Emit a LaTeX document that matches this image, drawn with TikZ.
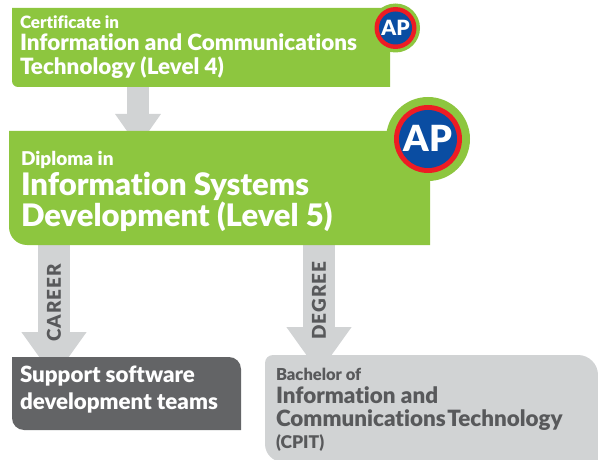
\documentclass[tikz,border=0pt]{standalone}
\usepackage{fontspec}
\setmainfont{Lato}[BoldFont={Lato Black},Ligatures={NoCommon}]
\usetikzlibrary{arrows.meta,calc}
\definecolor{apgreen}{HTML}{8DC63F}
\definecolor{apblue}{HTML}{0A4DA2}
\definecolor{apred}{HTML}{ED1C24}
\definecolor{aplight}{HTML}{D1D3D4}
\definecolor{apdark}{HTML}{636466}
\definecolor{aptext}{HTML}{58595B}
\newcommand{\sz}[1]{\fontsize{#1}{#1}\selectfont}
\tikzset{
  x=1pt,y=-1pt,
  blockarrow/.style={draw=aplight,line width=#1},
  txt/.style={anchor=base west,inner sep=0pt,outer sep=0pt},
  wtxt/.style={txt,text=white},
  dtxt/.style={txt,text=aptext},
  sidetxt/.style={rotate=90,inner sep=0pt,text=aptext,font=\sz{19}\bfseries\addfontfeature{LetterSpace=5}},
}
\newcommand{\badge}[5]{% x y rgreen rred rblue
  \fill[apgreen] (#1,#2) circle[radius=#3];
  \fill[apred] (#1,#2) circle[radius=#4];
  \fill[apblue] (#1,#2) circle[radius=#5];
}
\begin{document}
\begin{tikzpicture}
\useasboundingbox (0,0) rectangle (598,460);
% arrows
\draw[blockarrow=22pt,-{Triangle[length=33pt,width=43.5pt]}] (138,87) -- (138,147);
\draw[blockarrow=32pt,-{Triangle[length=46pt,width=62pt]}] (54,245) -- (54,378);
\draw[blockarrow=32pt,-{Triangle[length=46pt,width=62pt]}] (319,245) -- (319,373);
% boxes
\fill[apgreen] (12,8) -- (390,8) -- (390,87) [rounded corners=6pt] -- (12,87) [sharp corners] -- cycle;
\fill[apgreen] (9,131) -- (430,131) -- (430,245) [rounded corners=18pt] -- (9,245) [sharp corners] -- cycle;
\fill[apdark] (12,357) [rounded corners=12pt] -- (241,357) [sharp corners] -- (241,430) [rounded corners=12pt] -- (12,430) [sharp corners] -- cycle;
\fill[aplight] (265,460) [sharp corners] -- (300,460) -- (598,460) -- (598,380) [rounded corners=20pt] -- (598,355) [rounded corners=8pt] -- (265,355) [sharp corners] -- (265,440) [rounded corners=18pt] -- (265,462) -- (285,462) [sharp corners] -- cycle;
% badges
\badge{395.5}{28}{24.5}{21}{16.5}
\badge{428}{139}{42}{34}{29}
\node[text=white,font=\sz{21}\bfseries] (ap1) at (395.5,27.5) {AP};
\node[text=white,font=\sz{36}\bfseries] (ap2) at (428,138.5) {AP};
% text
\node[wtxt,font=\sz{17}\bfseries] (t1) at (20,29) {Certificate in};
\node[wtxt,font=\sz{22.4}\bfseries] (t2) at (20,50.5) {Information and Communications};
\node[wtxt,font=\sz{22.4}\bfseries] (t3) at (20,75) {Technology (Level 4)};
\node[wtxt,font=\sz{19}\bfseries] (t4) at (21,165) {Diploma in};
\node[wtxt,font=\sz{31}\bfseries] (t5) at (21,196) {Information Systems};
\node[wtxt,font=\sz{31}\bfseries] (t6) at (21,226) {Development (Level 5)};
\node[wtxt,font=\sz{22.3}\bfseries] (t7) at (20,382) {Support software};
\node[wtxt,font=\sz{22.3}\bfseries] (t8) at (20,409) {development teams};
\node[dtxt,font=\sz{16.5}\bfseries] (t9) at (276,380) {Bachelor of};
\node[dtxt,font=\sz{22.4}\bfseries] (t10) at (276,403) {Information and};
\node[dtxt,font=\sz{22.4}\bfseries] (t11) at (276,426) {Communications\hspace{1.5pt}Technology};
\node[dtxt,font=\sz{17.5}\bfseries] (t12) at (276,448.5) {(CPIT)};
\node[sidetxt] (l1) at (54,303) {CAREER};
\node[sidetxt] (l2) at (319,300.5) {DEGREE};
\end{tikzpicture}
\end{document}
